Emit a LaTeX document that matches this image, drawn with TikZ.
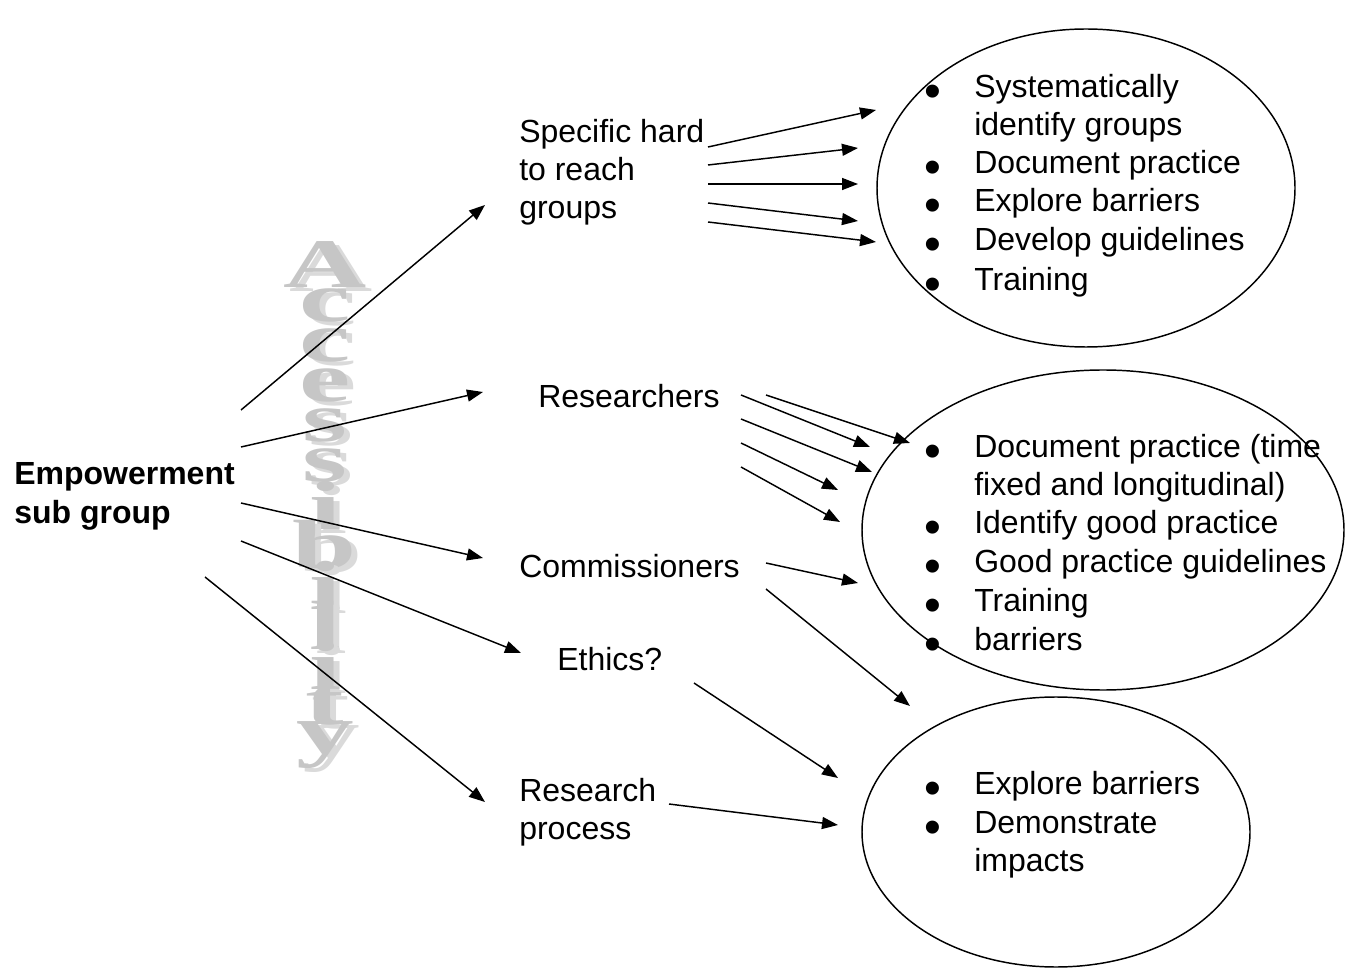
\documentclass[tikz,border=0pt]{standalone}
\usepackage{fontspec}
\setmainfont{Liberation Sans}
\newfontfamily\artfont{Liberation Serif}
\usetikzlibrary{arrows.meta}
\definecolor{artgray}{HTML}{C6C6C6}
\definecolor{artshadow}{HTML}{DADADA}
\newcommand\mylines[1]{\begin{tabular}[t]{@{}l@{}}#1\end{tabular}}
\begin{document}
\begin{tikzpicture}[x=0.75pt,y=-0.75pt,
  txt/.style={anchor=base west,inner sep=0pt,font=\fontsize{24}{28.5}\selectfont},
  bul/.style={anchor=base,inner sep=0pt,font=\fontsize{36}{36}\selectfont},
  arr/.style={line width=1.1pt,-{Triangle[length=12pt,width=9pt]}},
  art/.style={font=\artfont\bfseries\fontsize{36}{36}\selectfont,xscale=2.4,yscale=1.45,inner sep=0pt}
]
\useasboundingbox (0,0) rectangle (1353,969);
% Accessibility word art
\foreach \ch [count=\i] in {A,c,c,e,s,s,i,b,i,l,i,t,y}{
  \node[art,text=artshadow] at (331,{225+\i*40+4}) {\ch};
  \node[art,text=artgray] (art\i) at (325,{225+\i*40}) {\ch};
}
% ellipses
\draw[line width=1.1pt] (1086,188) ellipse [x radius=209, y radius=159];
\draw[line width=1.1pt] (1103,530) ellipse [x radius=241, y radius=160];
\draw[line width=1.1pt] (1056,832) ellipse [x radius=194, y radius=135];
% left node
\node[txt,font=\fontsize{24}{28.5}\selectfont\bfseries] (emp) at (14,485) {\mylines{Empowerment\\sub group}};
% middle nodes
\node[txt] (spec) at (519,143) {\mylines{Specific hard\\to reach\\groups}};
\node[txt] (res) at (538,408) {Researchers};
\node[txt] (com) at (519,577) {Commissioners};
\node[txt] (eth) at (557,670) {Ethics?};
\node[txt] (rp) at (519,801) {\mylines{Research\\process}};
% ellipse 1 text
\foreach \y in {98,174,212,251,291} \node[bul] at (933,\y+10) {\textbullet};
\node[txt] (a1) at (974,98) {\mylines{Systematically\\identify groups}};
\node[txt] (a2) at (974,174) {Document practice};
\node[txt] (a3) at (974,212) {Explore barriers};
\node[txt] (a4) at (974,251) {Develop guidelines};
\node[txt] (a5) at (974,291) {Training};
% ellipse 2 text
\foreach \y in {458,534,572,611,650} \node[bul] at (933,\y+10) {\textbullet};
\node[txt] (b1) at (974,458) {\mylines{Document practice (time\\fixed and longitudinal)}};
\node[txt] (b2) at (974,534) {Identify good practice};
\node[txt] (b3) at (974,572) {Good practice guidelines};
\node[txt] (b4) at (974,611) {Training};
\node[txt] (b5) at (974,650) {barriers};
% ellipse 3 text
\foreach \y in {794,833} \node[bul] at (933,\y+10) {\textbullet};
\node[txt] (c1) at (974,794) {Explore barriers};
\node[txt] (c2) at (974,833) {\mylines{Demonstrate\\impacts}};
% coordinates for arrows
\coordinate (e1) at (241,410); \coordinate (e1t) at (485,205);
\coordinate (e2) at (241,447); \coordinate (e2t) at (483,392);
\coordinate (e3) at (241,503); \coordinate (e3t) at (483,558);
\coordinate (e4) at (241,541); \coordinate (e4t) at (521,653);
\coordinate (e5) at (205,577); \coordinate (e5t) at (485,802);
\foreach \k in {1,...,5} \draw[arr] (e\k) -- (e\k t);
% from specific
\coordinate (s1) at (708,147); \coordinate (s1t) at (876,110);
\coordinate (s2) at (708,165); \coordinate (s2t) at (858,148);
\coordinate (s3) at (708,184); \coordinate (s3t) at (858,184);
\coordinate (s4) at (708,203); \coordinate (s4t) at (858,221);
\coordinate (s5) at (708,222); \coordinate (s5t) at (876,242);
\foreach \k in {1,...,5} \draw[arr] (s\k) -- (s\k t);
% from researchers
\coordinate (r1) at (766,395); \coordinate (r1t) at (910,443);
\coordinate (r2) at (741,395); \coordinate (r2t) at (870,447);
\coordinate (r3) at (741,419); \coordinate (r3t) at (872,472);
\coordinate (r4) at (741,443); \coordinate (r4t) at (838,490);
\coordinate (r5) at (741,467); \coordinate (r5t) at (840,522);
\foreach \k in {1,...,5} \draw[arr] (r\k) -- (r\k t);
% from commissioners
\coordinate (m1) at (766,563); \coordinate (m1t) at (858,583);
\coordinate (m2) at (766,589); \coordinate (m2t) at (910,706);
\draw[arr] (m1) -- (m1t);
\draw[arr] (m2) -- (m2t);
% ethics
\coordinate (t1) at (694,683); \coordinate (t1t) at (838,778);
\draw[arr] (t1) -- (t1t);
% research process
\coordinate (p1) at (669,804); \coordinate (p1t) at (838,825);
\draw[arr] (p1) -- (p1t);
\end{tikzpicture}
\end{document}
